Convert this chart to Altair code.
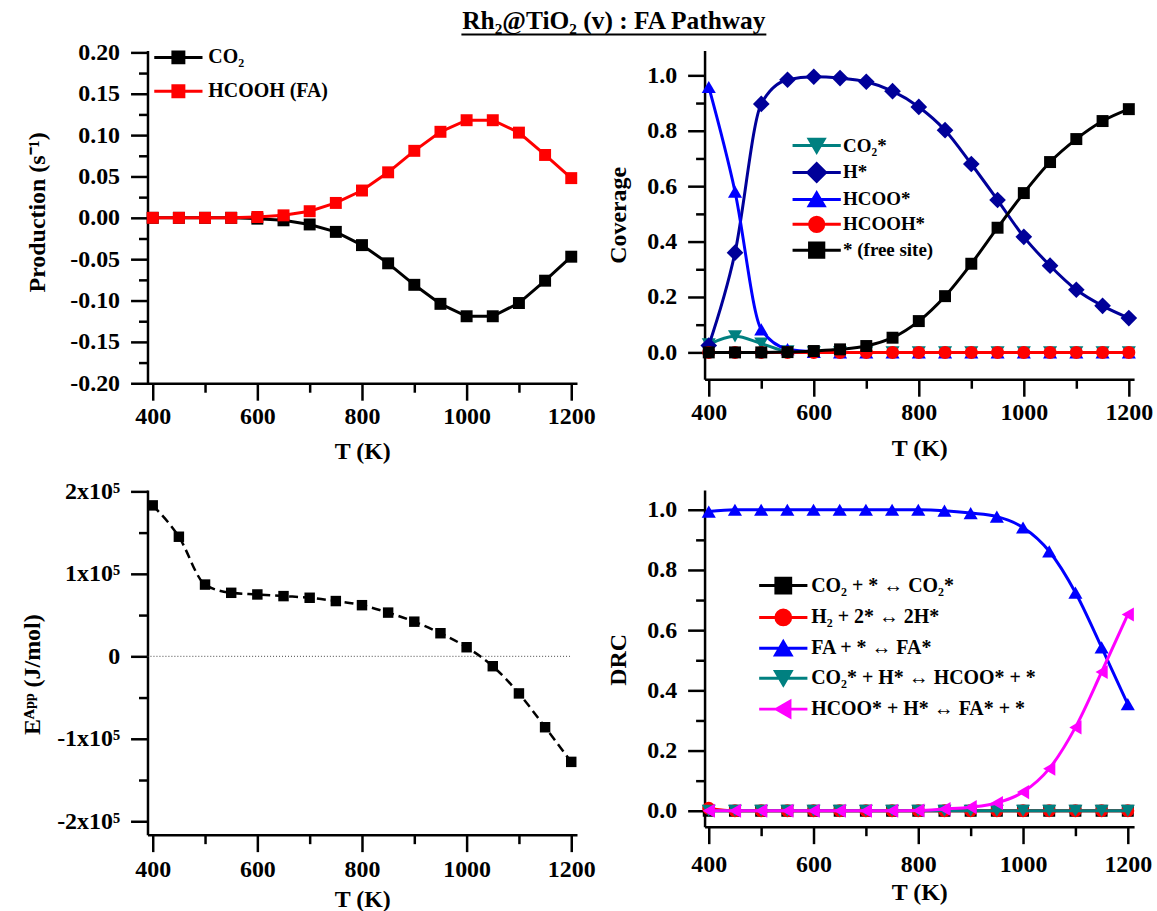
import altair as alt
import pandas as pd

FONT = "Liberation Serif"

# ---------------- data ----------------
T = [400, 450, 500, 550, 600, 650, 700, 750, 800, 850, 900, 950, 1000, 1050, 1100, 1150, 1200]

# Panel 1: production (s^-1)
prod_co2 = [0.0, 0.0, 0.0, 0.0, -0.001, -0.003, -0.008, -0.017, -0.033, -0.055, -0.081, -0.104, -0.119, -0.119, -0.103, -0.076, -0.047]
prod_fa = [0.0, 0.0, 0.0, 0.0, 0.001, 0.003, 0.008, 0.018, 0.033, 0.055, 0.081, 0.104, 0.118, 0.118, 0.103, 0.076, 0.048]

# Panel 2: coverage
cov_co2 = [0.029, 0.058, 0.032, 0.004, 0.0, 0.0, 0.0, 0.0, 0.0, 0.0, 0.0, 0.0, 0.0, 0.0, 0.0, 0.0, 0.0]
cov_h = [0.025, 0.36, 0.897, 0.984, 0.995, 0.99, 0.977, 0.943, 0.886, 0.802, 0.68, 0.55, 0.417, 0.313, 0.226, 0.168, 0.124]
cov_hcoo = [0.958, 0.58, 0.083, 0.012, 0.002, 0.0, 0.0, 0.0, 0.0, 0.0, 0.0, 0.0, 0.0, 0.0, 0.0, 0.0, 0.0]
cov_hcooh = [0.0, 0.0, 0.0, 0.0, 0.0, 0.0, 0.0, 0.0, 0.0, 0.0, 0.0, 0.0, 0.0, 0.0, 0.0, 0.0, 0.0]
cov_free = [0.0, 0.0, 0.0, 0.001, 0.005, 0.011, 0.023, 0.053, 0.113, 0.203, 0.32, 0.45, 0.575, 0.687, 0.77, 0.835, 0.878]

# Panel 3: apparent activation energy (J/mol)
e_app = [183000, 145000, 87000, 77000, 75000, 73000, 71000, 67000, 62000, 53000, 42000, 28000, 11000, -12000, -45000, -86000, -128000]
zero_span = [390, 1200]

# Panel 4: degree of rate control
drc_co2_ads = [0.0, 0.0, 0.0, 0.0, 0.0, 0.0, 0.0, 0.0, 0.0, 0.0, 0.0, 0.0, 0.0, 0.0, 0.0, 0.0, 0.0]
drc_h2_ads = [0.008, 0.0, 0.0, 0.0, 0.0, 0.0, 0.0, 0.0, 0.0, 0.0, 0.0, 0.0, 0.0, 0.0, 0.0, 0.0, 0.0]
drc_fa_ads = [0.994, 1.0, 1.0, 1.0, 1.0, 1.0, 1.0, 1.0, 1.0, 0.997, 0.989, 0.977, 0.941, 0.862, 0.725, 0.543, 0.354]
drc_hcoo_form = [0.0, 0.0, 0.0, 0.0, 0.0, 0.0, 0.0, 0.0, 0.0, 0.0, 0.0, 0.0, 0.0, 0.0, 0.0, 0.0, 0.0]
drc_fa_form = [0.0, 0.0, 0.0, 0.0, 0.0, 0.0, 0.0, 0.0, 0.001, 0.006, 0.012, 0.026, 0.062, 0.14, 0.277, 0.461, 0.652]

# series names / colours / shapes
p1_names = ["CO₂", "HCOOH (FA)"]
p1_vals = [prod_co2, prod_fa]
p1_colors = ["#000000", "#FF0000"]
p1_shapes = ["square", "square"]

p2_names = ["CO₂*", "H*", "HCOO*", "HCOOH*", "* (free site)"]
p2_vals = [cov_co2, cov_h, cov_hcoo, cov_hcooh, cov_free]
p2_colors = ["#008080", "#000099", "#0000FF", "#FF0000", "#000000"]
p2_shapes = ["triangle-down", "diamond", "triangle-up", "circle", "square"]

p3_names = ["Eapp"]
p3_vals = [e_app]

p4_names = ["CO₂ + * ↔ CO₂*", "H₂ + 2* ↔ 2H*", "FA + * ↔ FA*", "CO₂* + H* ↔ HCOO* + *", "HCOO* + H* ↔ FA* + *"]
p4_vals = [drc_co2_ads, drc_h2_ads, drc_fa_ads, drc_hcoo_form, drc_fa_form]
p4_colors = ["#000000", "#FF0000", "#0000FF", "#008080", "#FF00FF"]
p4_shapes = ["square", "circle", "triangle-up", "triangle-down", "triangle-left"]

TITLE = "Rh₂@TiO₂ (v) : FA Pathway"

# ---------------- helpers ----------------
L = 4.4


def leg_path(shape, k):
    line = f"M{-L},0H{L}"
    if shape == "square":
        return line + f"M{-k},{-k}H{k}V{k}H{-k}Z"
    if shape == "circle":
        return line + f"M{-k},0A{k},{k},0,1,1,{k},0A{k},{k},0,1,1,{-k},0Z"
    if shape == "triangle-up":
        return line + f"M0,{-0.9*k}L{1.05*k},{0.9*k}L{-1.05*k},{0.9*k}Z"
    if shape == "triangle-down":
        return line + f"M0,{0.9*k}L{1.05*k},{-0.9*k}L{-1.05*k},{-0.9*k}Z"
    if shape == "triangle-left":
        return line + f"M{-0.9*k},0L{0.9*k},{-1.05*k}L{0.9*k},{1.05*k}Z"
    return line + f"M{-1.25*k},0L0,{-1.25*k}L{1.25*k},0L0,{1.25*k}Z"


MSIZE = {"square": 144, "circle": 170, "triangle-up": 200, "triangle-down": 200,
         "triangle-left": 200, "diamond": 280}


def long_df(names, vals, key):
    rows = []
    for n, v in zip(names, vals):
        for t, y in zip(T, v):
            rows.append({"T": t, "y": y, key: n})
    return pd.DataFrame(rows)


def x_axis(label_pad, title_pad):
    return alt.Axis(
        values=list(range(400, 1201, 100)),
        title="T (K)",
        labelExpr="datum.value % 200 == 0 ? datum.value : ''",
        tickDash={"condition": {"test": "datum.value % 200 != 0", "value": [9, 40]},
                  "value": [100, 0]},
        labelPadding=label_pad,
        titlePadding=title_pad,
    )


def y_axis(title, values, label_expr, minor_test, title_x, title_y):
    return alt.Axis(
        values=values,
        title=title,
        labelExpr=label_expr,
        tickDash={"condition": {"test": minor_test, "value": [9, 40]},
                  "value": [100, 0]},
        labelPadding=11,
        titleX=title_x,
        titleY=title_y,
        titleAngle=270,
        titleAlign="center",
        titleBaseline="middle",
    )


def series_layers(df, key, name, color, shape, xenc, yenc, interp, dash=None,
                  sw=3.0, size=None):
    base = alt.Chart(df).transform_filter(alt.datum[key] == name)
    line_kw = dict(color=color, strokeWidth=sw, interpolate=interp)
    if dash:
        line_kw["strokeDash"] = dash
    line = base.mark_line(**line_kw).encode(x=xenc, y=yenc)
    pts = base.mark_point(filled=True, shape=shape, color=color, opacity=1,
                          size=size or MSIZE[shape]).encode(x=xenc, y=yenc)
    return [line, pts]


def legend_layer(df, key, names, colors, shapes, lx, ly, row_pad, k, offset, fsize=20):
    leg = alt.Legend(
        title=None, orient="none", legendX=lx, legendY=ly, direction="vertical",
        labelFont=FONT, labelFontSize=fsize, labelFontWeight="bold", labelColor="black",
        labelOffset=offset, labelLimit=400, symbolSize=121, symbolStrokeWidth=3,
        rowPadding=row_pad, padding=0,
    )
    paths = [leg_path(s, k) for s in shapes]
    return alt.Chart(df).transform_filter("datum.T < 0").mark_point(
        filled=True, opacity=1, size=121, strokeWidth=3
    ).encode(
        fill=alt.Fill(f"{key}:N", scale=alt.Scale(domain=names, range=colors), legend=leg),
        stroke=alt.Stroke(f"{key}:N", scale=alt.Scale(domain=names, range=colors), legend=leg),
        shape=alt.Shape(f"{key}:N", scale=alt.Scale(domain=names, range=paths), legend=leg),
    )


def ticks(lo, step, n):
    return [round(lo + step * i, 6) for i in range(n)]


# ---------------- panel 1 ----------------
W = 431
df1 = long_df(p1_names, p1_vals, "s1")
x1 = alt.X("T:Q", scale=alt.Scale(domain=[390, 1211], nice=False, zero=False), axis=x_axis(4, 12))
y1 = alt.Y("y:Q", scale=alt.Scale(domain=[-0.2, 0.2024], nice=False, zero=False),
           axis=y_axis("Production (s⁻¹)", ticks(-0.2, 0.025, 17),
                       "abs(datum.value*20 - round(datum.value*20)) < 1e-6 ? replace(format(datum.value, '.2f'), '−', '-') : ''",
                       "abs(datum.value*20 - round(datum.value*20)) > 1e-6",
                       -110, 162))
layers1 = []
for n, c, s in zip(p1_names, p1_colors, p1_shapes):
    layers1 += series_layers(df1, "s1", n, c, s, x1, y1, "linear")
layers1.append(legend_layer(df1, "s1", p1_names, p1_colors, p1_shapes, 21, -3, 10, 1.0, 20))
title_df = pd.DataFrame({"label": [TITLE]})
title_txt = alt.Chart(title_df).mark_text(
    font=FONT, fontSize=25.5, fontWeight="bold", color="black", align="center", baseline="alphabetic"
).encode(text="label:N", x=alt.value(468), y=alt.value(-21))
title_line = alt.Chart(title_df).mark_rule(color="black", strokeWidth=2).encode(
    x=alt.value(315), x2=alt.value(621), y=alt.value(-16))
layers1 += [title_txt, title_line]
p1 = alt.layer(*layers1).properties(width=W, height=334)

# ---------------- panel 2 ----------------
df2 = long_df(p2_names, p2_vals, "s2")
x2 = alt.X("T:Q", scale=alt.Scale(domain=[392, 1210], nice=False, zero=False), axis=x_axis(4, 12))
y2 = alt.Y("y:Q", scale=alt.Scale(domain=[-0.097, 1.09], nice=False, zero=False),
           axis=y_axis("Coverage", ticks(-0.1, 0.1, 12),
                       "abs(datum.value*5 - round(datum.value*5)) < 1e-6 ? format(datum.value, '.1f') : ''",
                       "abs(datum.value*5 - round(datum.value*5)) > 1e-6",
                       -86, 165))
layers2 = []
for n, c, s in zip(p2_names, p2_colors, p2_shapes):
    layers2 += series_layers(df2, "s2", n, c, s, x2, y2, "monotone")
layers2.append(legend_layer(df2, "s2", p2_names, p2_colors, p2_shapes, 103, 86, -1, 1.3, 17, 19))
p2 = alt.layer(*layers2).properties(width=W, height=330)

# ---------------- panel 3 ----------------
df3 = long_df(p3_names, p3_vals, "s3")
ydom3 = [-216300, 201800]
x3 = alt.X("T:Q", scale=alt.Scale(domain=[390, 1211], nice=False, zero=False), axis=x_axis(6, 6))
y3 = alt.Y("y:Q", scale=alt.Scale(domain=ydom3, nice=False, zero=False),
           axis=y_axis("Eᴬᵖᵖ (J/mol)", ticks(-200000, 50000, 9),
                       "datum.value == 0 ? '0' : (datum.value % 100000 == 0 ? (datum.value/100000) + 'x10⁵' : '')",
                       "datum.value % 100000 != 0",
                       -115, 185))
zero_df = pd.DataFrame({"T": [zero_span[0]], "T2": [zero_span[1]], "y": [0]})
zero_rule = alt.Chart(zero_df).mark_rule(color="#444444", strokeWidth=1, strokeDash=[1, 2]).encode(
    x="T:Q", x2="T2:Q", y="y:Q")
layers3 = [zero_rule] + series_layers(df3, "s3", "Eapp", "#000000", "square", x3, y3, "monotone",
                                       dash=[9, 5], sw=2.5, size=110)
p3 = alt.layer(*layers3).properties(width=W, height=346)

# ---------------- panel 4 ----------------
df4 = long_df(p4_names, p4_vals, "s4")
x4 = alt.X("T:Q", scale=alt.Scale(domain=[392, 1212], nice=False, zero=False), axis=x_axis(9, 4))
y4 = alt.Y("y:Q", scale=alt.Scale(domain=[-0.053, 1.066], nice=False, zero=False),
           axis=y_axis("DRC", ticks(0.0, 0.1, 11),
                       "abs(datum.value*5 - round(datum.value*5)) < 1e-6 ? format(datum.value, '.1f') : ''",
                       "abs(datum.value*5 - round(datum.value*5)) > 1e-6",
                       -86, 170))
layers4 = []
for n, c, s in zip(p4_names, p4_colors, p4_shapes):
    layers4 += series_layers(df4, "s4", n, c, s, x4, y4, "monotone")
layers4.append(legend_layer(df4, "s4", p4_names, p4_colors, p4_shapes, 69, 86, 4, 1.35, 18))
p4 = alt.layer(*layers4).properties(width=W, height=338)

chart = alt.concat(
    p1, p2, p3, p4, columns=2,
    spacing=alt.RowColnumber(row=107, column=128),
    bounds="flush",
).resolve_scale(
    fill="independent", stroke="independent", shape="independent"
).properties(
    padding={"left": 21, "top": 8, "right": 4, "bottom": 2}
).configure_view(stroke=None).configure_axis(
    domainWidth=2.5, domainColor="black", tickWidth=2.5, tickColor="black", tickSize=17,
    labelFont=FONT, labelFontSize=24, labelFontWeight="bold", labelColor="black",
    titleFont=FONT, titleFontSize=24, titleFontWeight="bold", titleColor="black",
    grid=False, labelOverlap=False, labelFlush=False, tickRound=False,
)

chart.save("out.html", embed_options={"renderer": "svg", "actions": False})
